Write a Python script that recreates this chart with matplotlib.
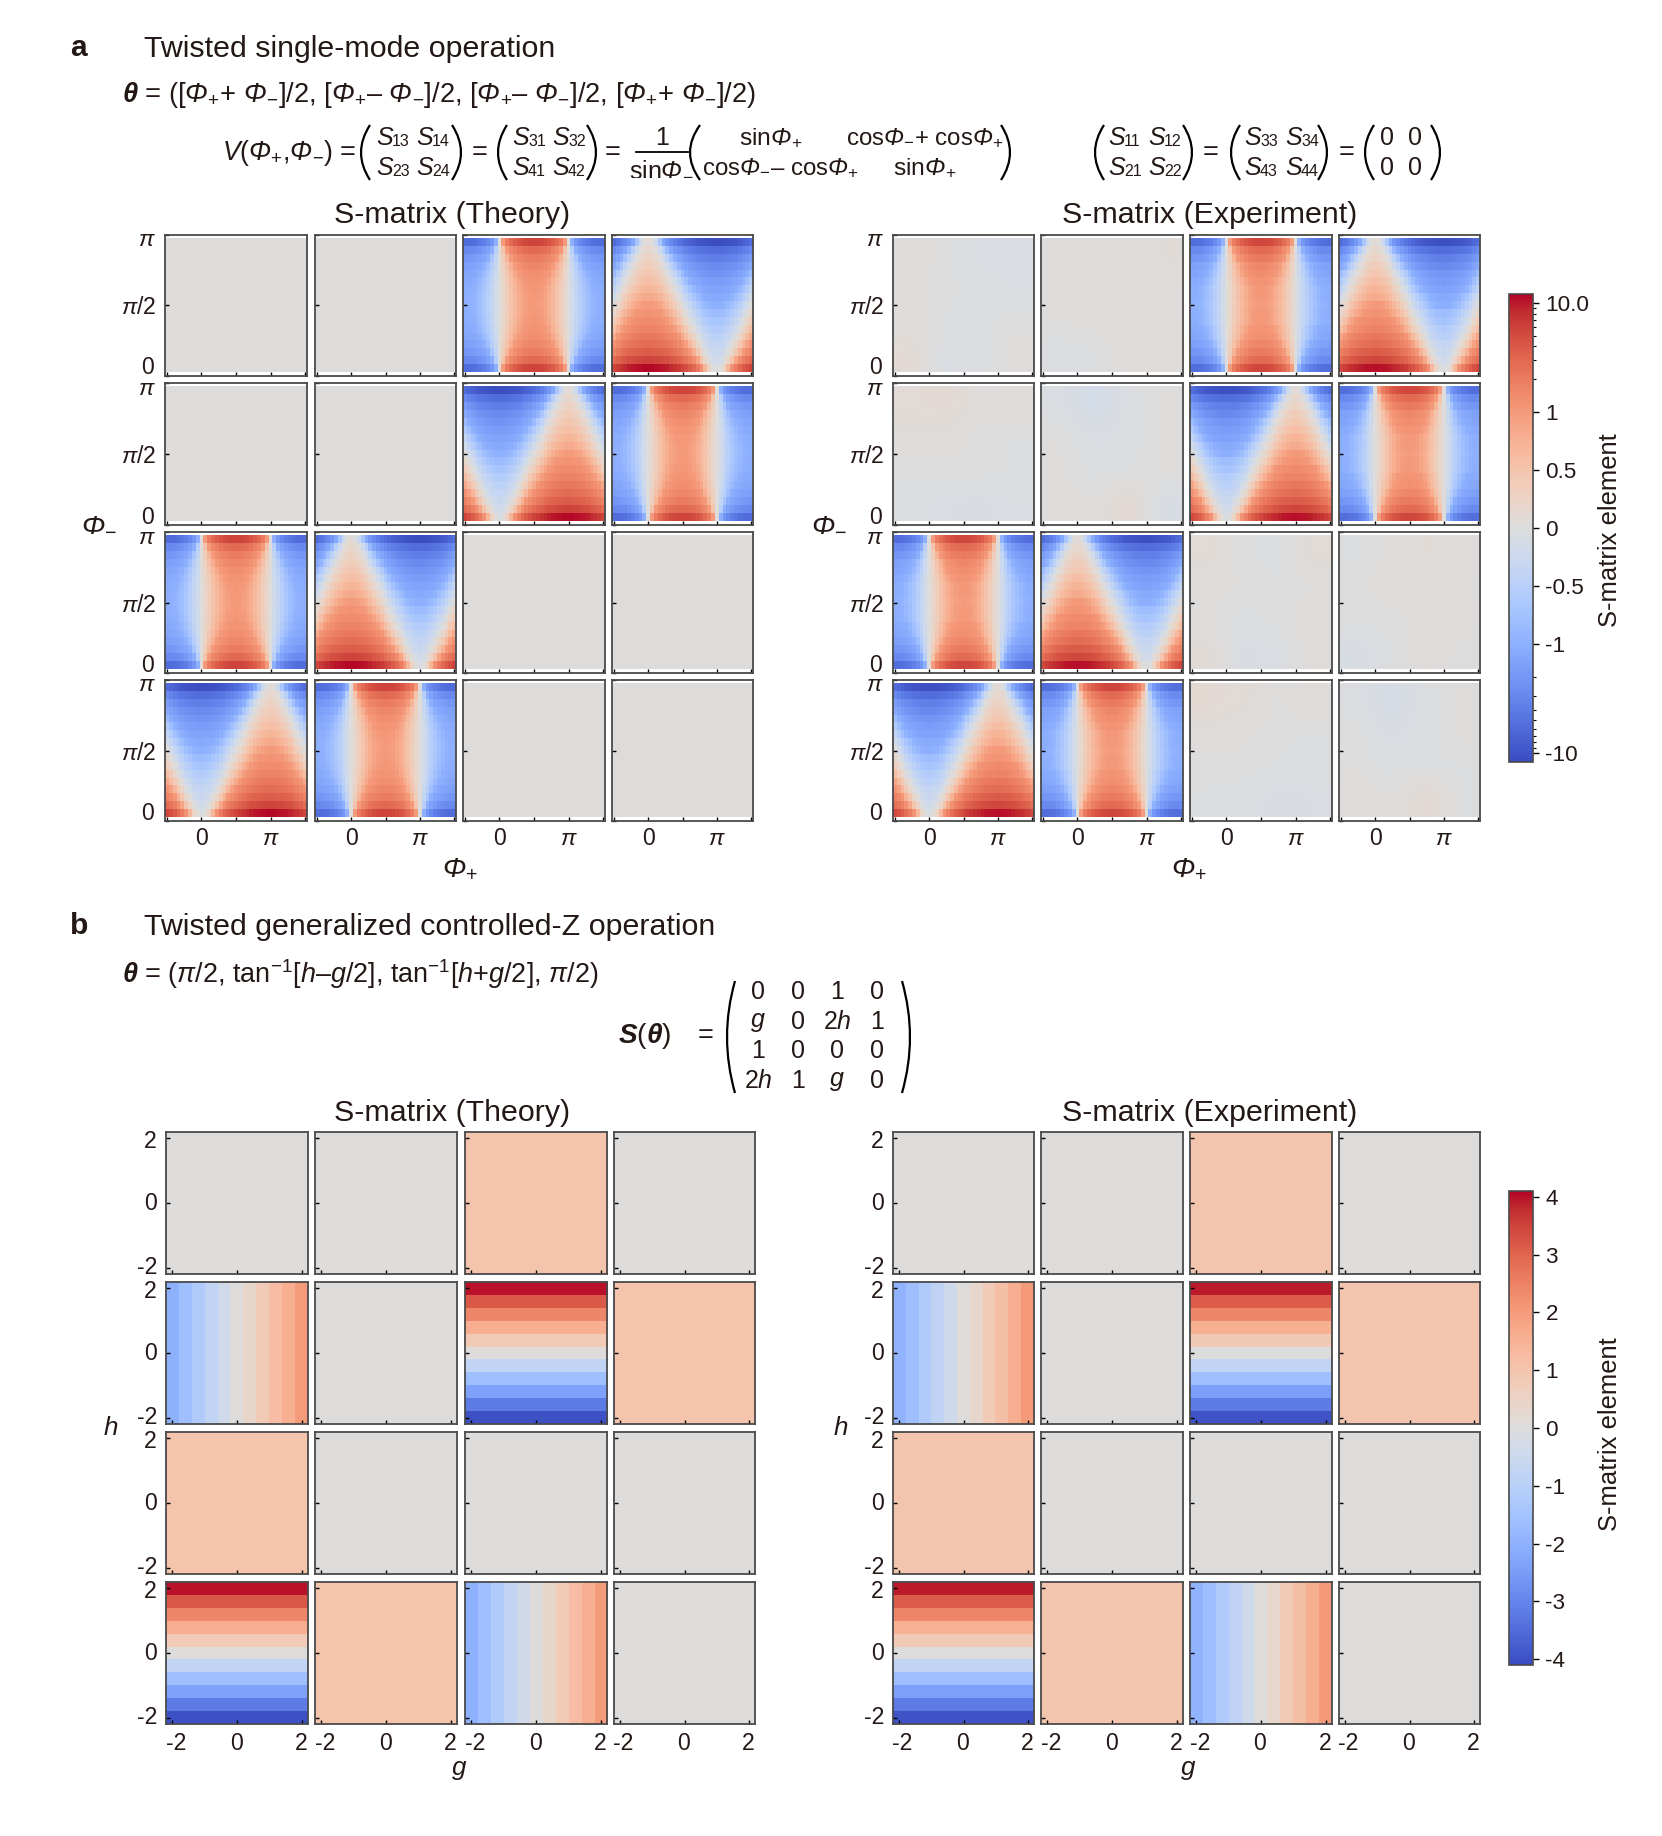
import numpy as np
import matplotlib
matplotlib.use("Agg")
import matplotlib.pyplot as plt
from matplotlib.cm import ScalarMappable
from matplotlib.colors import Normalize, SymLogNorm
from matplotlib.lines import Line2D
from matplotlib.patches import PathPatch
from matplotlib.path import Path
from matplotlib.transforms import Affine2D

plt.rcParams['font.family'] = ['Liberation Sans', 'DejaVu Sans']
plt.rcParams['mathtext.fontset'] = 'custom'
plt.rcParams['mathtext.rm'] = 'Liberation Sans'
plt.rcParams['mathtext.it'] = 'Liberation Sans:italic'
plt.rcParams['mathtext.bf'] = 'Liberation Sans:bold'
plt.rcParams['mathtext.bfit'] = 'Liberation Sans:italic:bold'
# mathtext forces capital greek upright in \mathit, the cal slot keeps it italic
plt.rcParams['mathtext.cal'] = 'Liberation Sans:italic'

W, H = 1662, 1836
INK = '#231815'
EDGE = '#4a4a4a'

# panel a, S13-like element: top 9 rows, columns phi+ = -90..90 deg in 10 deg steps
band_rows = [
    [-5.76, -5.67, -5.41, -4.99, -4.41, -3.70, -2.88, -1.97, -1.00, 0, 1.00, 1.97, 2.88, 3.70, 4.41, 4.99, 5.41, 5.67, 5.76],
    [-2.92, -2.88, -2.75, -2.53, -2.24, -1.88, -1.46, -1.00, -.51, 0, .51, 1.00, 1.46, 1.88, 2.24, 2.53, 2.75, 2.88, 2.92],
    [-2.00, -1.97, -1.88, -1.73, -1.53, -1.29, -1.00, -.68, -.35, 0, .35, .68, 1.00, 1.29, 1.53, 1.73, 1.88, 1.97, 2.00],
    [-1.56, -1.53, -1.46, -1.35, -1.19, -.99, -.78, -.53, -.27, 0, .27, .53, .78, .99, 1.19, 1.35, 1.46, 1.53, 1.56],
    [-1.31, -1.29, -1.23, -1.13, -1.00, -.84, -.65, -.45, -.23, 0, .23, .45, .65, .84, 1.00, 1.13, 1.23, 1.29, 1.31],
    [-1.15, -1.14, -1.09, -1.00, -.88, -.74, -.58, -.39, -.20, 0, .20, .39, .58, .74, .88, 1.00, 1.09, 1.14, 1.15],
    [-1.06, -1.05, -1.00, -.92, -.82, -.68, -.53, -.36, -.18, 0, .18, .36, .53, .68, .82, .92, 1.00, 1.05, 1.06],
    [-1.02, -1.00, -.95, -.88, -.78, -.65, -.51, -.35, -.18, 0, .18, .35, .51, .65, .78, .88, .95, 1.00, 1.02],
    [-1.00, -.98, -.94, -.87, -.77, -.64, -.50, -.34, -.17, 0, .17, .34, .50, .64, .77, .87, .94, .98, 1.00],
]

# panel a, S14-like element: all 17 rows top to bottom, columns phi+ = 0..180 deg
wedge_rows = [
    [.09, 0, -.26, -.69, -1.26, -1.97, -2.79, -3.70, -4.67, -5.67, -6.68, -7.64, -8.55, -9.38, -10.09, -10.66, -11.09, -11.35, -11.43],
    [.18, .13, 0, -.22, -.51, -.87, -1.28, -1.75, -2.24, -2.75, -3.25, -3.74, -4.20, -4.62, -4.98, -5.27, -5.49, -5.62, -5.66],
    [.27, .24, .15, 0, -.20, -.45, -.73, -1.05, -1.38, -1.73, -2.08, -2.42, -2.73, -3.02, -3.26, -3.46, -3.61, -3.70, -3.73],
    [.36, .34, .27, .16, 0, -.19, -.41, -.66, -.92, -1.19, -1.46, -1.72, -1.97, -2.19, -2.38, -2.54, -2.65, -2.72, -2.75],
    [.47, .45, .39, .29, .16, 0, -.19, -.39, -.61, -.84, -1.07, -1.29, -1.49, -1.68, -1.84, -1.97, -2.07, -2.12, -2.14],
    [.58, .56, .51, .42, .31, .17, 0, -.18, -.38, -.58, -.78, -.97, -1.15, -1.32, -1.46, -1.58, -1.66, -1.71, -1.73],
    [.70, .68, .64, .56, .45, .32, .17, 0, -.18, -.36, -.55, -.73, -.90, -1.05, -1.18, -1.29, -1.36, -1.41, -1.43],
    [.84, .82, .78, .70, .60, .48, .33, .17, 0, -.18, -.35, -.52, -.68, -.83, -.95, -1.06, -1.13, -1.18, -1.19],
    [1.00, .98, .94, .87, .77, .64, .50, .34, .17, 0, -.17, -.34, -.50, -.64, -.77, -.87, -.94, -.98, -1.00],
    [1.19, 1.18, 1.13, 1.06, .95, .83, .68, .52, .35, .18, 0, -.17, -.33, -.48, -.60, -.70, -.78, -.82, -.84],
    [1.43, 1.41, 1.36, 1.29, 1.18, 1.05, .90, .73, .55, .36, .18, 0, -.17, -.32, -.45, -.56, -.64, -.68, -.70],
    [1.73, 1.71, 1.66, 1.58, 1.46, 1.32, 1.15, .97, .78, .58, .38, .18, 0, -.17, -.31, -.42, -.51, -.56, -.58],
    [2.14, 2.12, 2.07, 1.97, 1.84, 1.68, 1.49, 1.29, 1.07, .84, .61, .39, .19, 0, -.16, -.29, -.39, -.45, -.47],
    [2.75, 2.72, 2.65, 2.54, 2.38, 2.19, 1.97, 1.72, 1.46, 1.19, .92, .66, .41, .19, 0, -.16, -.27, -.34, -.36],
    [3.73, 3.70, 3.61, 3.46, 3.26, 3.02, 2.73, 2.42, 2.08, 1.73, 1.38, 1.05, .73, .45, .20, 0, -.15, -.24, -.27],
    [5.66, 5.62, 5.49, 5.27, 4.98, 4.62, 4.20, 3.74, 3.25, 2.75, 2.24, 1.75, 1.28, .87, .51, .22, 0, -.13, -.18],
    [11.43, 11.35, 11.09, 10.66, 10.09, 9.38, 8.55, 7.64, 6.68, 5.67, 4.67, 3.70, 2.79, 1.97, 1.26, .69, .26, 0, -.09],
]

# how far the measured rows sit from theory
exp_band_gain = [.96, .98, 1.02, .98, 1.03, 1.00, .97, 1.02, .99, 1.01, .97, 1.02, .98, 1.01, 1.03, .98, .97]
exp_wedge_gain = [.97, 1.02, .98, 1.03, .97, 1.01, 1.03, .98, 1.02, .97, 1.01, .98, 1.03, .99, 1.02, .97, .95]

# near-zero elements in the experiment, coarse 4x4 readings
exp_null_a = [
    [[.03, -.01, -.06, -.06], [.01, -.01, -.03, -.05], [.02, -.02, -.02, -.01], [.08, -.05, -.04, .03]],
    [[.01, .03, 0, .05], [.01, .03, .01, .03], [0, .02, .04, .03], [-.04, -.03, .04, .04]],
    [[.07, .10, .02, .04], [.04, .03, -.01, -.02], [-.01, -.01, -.01, -.02], [-.04, -.06, -.07, -.05]],
    [[-.05, -.14, -.04, .01], [0, -.06, -.04, .01], [.01, -.03, -.02, .01], [.01, .01, .10, -.08]],
    [[.07, -.01, -.04, .07], [.01, 0, -.01, 0], [.01, -.03, -.01, .02], [.06, -.07, -.05, .04]],
    [[-.02, .01, .05, .03], [-.01, .03, .03, .01], [-.01, -.01, .03, .02], [-.08, -.02, .04, -.01]],
    [[.10, .06, 0, .04], [.03, .01, -.01, -.02], [-.01, -.01, -.02, -.03], [-.02, -.03, -.08, -.06]],
    [[-.04, -.12, -.03, .01], [-.01, -.07, -.03, .01], [0, -.03, -.02, -.02], [.03, .01, .10, -.02]],
]

# panel b, 11 readings along g and along h (top to bottom)
g_theory = [-2.0, -1.6, -1.2, -.8, -.4, 0, .4, .8, 1.2, 1.6, 2.0]
h2_theory = [4.0, 3.2, 2.4, 1.6, .8, 0, -.8, -1.6, -2.4, -3.2, -4.0]
g_exp = [-1.95, -1.62, -1.22, -.83, -.42, .02, .38, .80, 1.18, 1.62, 2.02]
h2_exp = [3.92, 3.12, 2.41, 1.55, .82, -.02, -.78, -1.60, -2.42, -3.18, -3.95]
one_theory, zero_theory = 1.0, 0.0
one_exp, zero_exp = 0.98, 0.03

cols_a = [[(165, 307), (315, 456), (463, 605), (612, 753)],
          [(893, 1034), (1041, 1183), (1190, 1332), (1339, 1480)]]
rows_a = [(235, 376), (383, 525), (532, 673), (680, 821)]
cols_b = [[(166, 308), (315, 457), (465, 607), (614, 755)],
          [(893, 1034), (1041, 1183), (1190, 1332), (1339, 1480)]]
rows_b = [(1132, 1274), (1282, 1424), (1432, 1574), (1582, 1724)]

layout_a = [['0', '0', 'band', 'wedge'],
            ['0', '0', 'flip', 'band'],
            ['band', 'wedge', '0', '0'],
            ['flip', 'band', '0', '0']]
layout_b = [['0', '0', '1', '0'],
            ['g', '0', 'h', '1'],
            ['1', '0', '0', '0'],
            ['h', '1', 'g', '0']]


def full_band():
    left = np.array(band_rows)
    wide = np.hstack([left, left[:, -2::-1]])
    return np.vstack([wide, wide[-2::-1]])


def full_wedge():
    w = np.array(wedge_rows)
    return np.hstack([w[:, 9:0:-1], w, w[:, 17:8:-1]])


fig = plt.figure(figsize=(W / 100, H / 100), dpi=100)
px = Affine2D().scale(1 / W, -1 / H).translate(0, 1) + fig.transFigure
norm_a = SymLogNorm(linthresh=1, linscale=0.969, vmin=-12.2, vmax=12.2, base=10)
norm_b = Normalize(vmin=-4.1, vmax=4.1)


def txt(x, y, s, size=30, ha='left', **kw):
    return fig.text(x / W, 1 - y / H, s, fontsize=size * .72, ha=ha, va='center', color=INK, **kw)


def paren(x0, x1, y0, y1, left=True):
    # thin curved bracket for the matrices
    if left:
        pts = [(x1, y0), (2 * x0 - x1, (y0 + y1) / 2), (x1, y1)]
    else:
        pts = [(x0, y0), (2 * x1 - x0, (y0 + y1) / 2), (x0, y1)]
    p = Path(pts, [Path.MOVETO, Path.CURVE3, Path.CURVE3])
    fig.add_artist(PathPatch(p, fc='none', ec='black', lw=1.6, transform=px))


def new_ax(xr, yr):
    return fig.add_axes([xr[0] / W, 1 - yr[1] / H, (xr[1] - xr[0]) / W, (yr[1] - yr[0]) / H])


def style(ax):
    for s in ax.spines.values():
        s.set_linewidth(1.3)
        s.set_color(EDGE)
    ax.tick_params(direction='in', length=3.2, width=1.0, colors='black', labelsize=23 * .72,
                   labelcolor=INK)
    ax.tick_params(axis='y', pad=6.5)
    ax.tick_params(axis='x', pad=4.5)


def panel_a(xr, yr, grid, left_col, bottom_row, smooth=False):
    ax = new_ax(xr, yr)
    ax.imshow(grid, extent=np.radians([-95, 275, 5, 175]), aspect='auto', cmap='coolwarm', norm=norm_a,
              interpolation='bilinear' if smooth else 'nearest', origin='upper')
    ax.set_xlim(np.radians([-95, 275]))
    ax.set_ylim(0, np.pi)
    style(ax)
    ax.set_xticks(np.radians([-90, 0, 90, 180, 270]))
    ax.set_yticks(np.radians([0, 90, 180]))
    ax.set_xticklabels(['', '0', '', r'$\mathit{\pi}$', ''] if bottom_row else [''] * 5)
    ax.set_yticklabels(['', r'$\mathit{\pi}$/2', ''] if left_col else [''] * 3)
    if left_col:
        txt(xr[0] - 9, yr[0] + 5, r'$\mathit{\pi}$', 23, ha='right')
        txt(xr[0] - 11, yr[1] - 8, '0', 23, ha='right')
    return ax


def panel_b(xr, yr, kind, g, h, one, zero, left_col, bottom_row):
    if kind == 'g':
        grid = np.array([g])
    elif kind == 'h':
        grid = np.array([h]).T
    else:
        grid = np.array([[one if kind == '1' else zero]])
    ax = new_ax(xr, yr)
    ax.imshow(grid, extent=[-2.2, 2.2, -2.2, 2.2], aspect='auto', cmap='coolwarm', norm=norm_b,
              interpolation='nearest', origin='upper')
    style(ax)
    ax.set_xticks([-2, 0, 2])
    ax.set_yticks([-2, 0, 2])
    ax.set_xticklabels([''] * 3)
    ax.set_yticklabels([''] * 3)
    mid_x = (xr[0] + xr[1]) / 2
    if bottom_row:
        txt(mid_x - 61, 1743, '-2', 23, ha='center')
        txt(mid_x - 1, 1743, '0', 23, ha='center')
        txt(mid_x + 64, 1743, '2', 23, ha='center')
    if left_col:
        txt(xr[0] - 9, yr[0] + 9, '2', 23, ha='right')
        txt(xr[0] - 9, (yr[0] + yr[1]) / 2 + 1, '0', 23, ha='right')
        txt(xr[0] - 9, yr[1] - 7, '-2', 23, ha='right')
    return ax


band = full_band()
wedge = full_wedge()
exp_band = band * np.array(exp_band_gain)[:, None]
exp_wedge = wedge * np.array(exp_wedge_gain)[:, None]

for side in range(2):
    nulls = iter(exp_null_a)
    for r in range(4):
        for c in range(4):
            kind = layout_a[r][c]
            smooth = False
            if kind == 'band':
                grid = band if side == 0 else exp_band
            elif kind == 'wedge':
                grid = wedge if side == 0 else exp_wedge
            elif kind == 'flip':
                grid = (wedge if side == 0 else exp_wedge)[:, ::-1]
            elif side == 0:
                grid = [[zero_theory]]
            else:
                grid = next(nulls)
                smooth = True
            panel_a(cols_a[side][c], rows_a[r], grid, c == 0, r == 3, smooth)
    for r in range(4):
        for c in range(4):
            kind = layout_b[r][c]
            if side == 0:
                panel_b(cols_b[side][c], rows_b[r], kind, g_theory, h2_theory, one_theory, zero_theory, c == 0, r == 3)
            else:
                panel_b(cols_b[side][c], rows_b[r], kind, g_exp, h2_exp, one_exp, zero_exp, c == 0, r == 3)

# colour bars
cax = new_ax((1509, 1533), (294, 762))
cb = fig.colorbar(ScalarMappable(norm=norm_a, cmap='coolwarm'), cax=cax)
cb.set_ticks([-10, -1, -.5, 0, .5, 1, 10])
cb.set_ticklabels(['-10', '-1', '-0.5', '0', '0.5', '1', '10.0'])
cax.set_yticks([s * v for s in (-1, 1) for v in (2, 3, 4, 5, 6, 7, 8, 9)], minor=True)
cax.tick_params(which='major', length=4.5, width=1.0, labelsize=22.5 * .72, labelcolor=INK, pad=4.5)
cax.tick_params(which='minor', length=2.5, width=.8)
cb.outline.set_edgecolor(EDGE)
cb.outline.set_linewidth(1.2)

cax = new_ax((1509, 1533), (1191, 1665))
cb = fig.colorbar(ScalarMappable(norm=norm_b, cmap='coolwarm'), cax=cax)
cb.set_ticks([-4, -3, -2, -1, 0, 1, 2, 3, 4])
cb.set_ticklabels(['-4', '-3', '-2', '-1', '0', '1', '2', '3', '4'])
cax.tick_params(length=4.5, width=1.0, labelsize=22.5 * .72, labelcolor=INK, pad=4.5)
cb.outline.set_edgecolor(EDGE)
cb.outline.set_linewidth(1.2)

txt(1610, 530, 'S-matrix element', 25.6, ha='center', rotation=90)
txt(1610, 1434, 'S-matrix element', 25.6, ha='center', rotation=90)

# headings
txt(70, 48, 'a', 30, weight='bold')
txt(144, 49, 'Twisted single-mode operation', 30.4)
txt(70, 926, 'b', 30, weight='bold')
txt(144, 927, 'Twisted generalized controlled-Z operation', 30.4)
for cx, name in ((452, 'S-matrix (Theory)'), (1210, 'S-matrix (Experiment)')):
    txt(cx, 215, name, 30.4, ha='center')
    txt(cx, 1113, name, 30.4, ha='center')

# axis names
PP = r'$\mathcal{\Phi}_{+}$'
PM = r'$\mathcal{\Phi}_{-}$'
for x in (99, 829):
    txt(x, 524, PM, 28, ha='center')
    txt(x + 12, 1428, r'$\mathit{h}$', 26, ha='center')
for x in (460, 1189):
    txt(x, 869, PP, 28, ha='center')
    txt(x - 1, 1770, r'$\mathit{g}$', 26, ha='center')

# equations of panel a
TH = r'$\mathbfit{\theta}$'
txt(122, 95, TH + ' = ([' + PP + '+ ' + PM + ']/2, [' + PP + '– ' + PM + ']/2, [' + PP + '– ' + PM + ']/2, [' + PP + '+ ' + PM + ']/2)', 27.2)
txt(222, 153, r'$\mathit{V}$(' + PP + ',' + PM + ')', 26.5)
txt(348, 153, '=', 27, ha='center')


def S(x, y, sub):
    # subscripts here are smaller than mathtext would set them
    txt(x, y, r'$\mathit{S}$', 25)
    txt(x + 16, y + 3, sub, 16)


y1, y2 = 138, 168
for x0, x1, xa, xb, names in ((361, 461, 376, 416, ('13', '14', '23', '24')),
                              (498, 596, 512, 552, ('31', '32', '41', '42')),
                              (1095, 1192, 1108, 1148, ('11', '12', '21', '22')),
                              (1231, 1327, 1244, 1285, ('33', '34', '43', '44'))):
    paren(x0, x0 + 9, 125, 180)
    paren(x1 - 9, x1, 125, 180, left=False)
    S(xa, y1, names[0])
    S(xb, y1, names[1])
    S(xa, y2, names[2])
    S(xb, y2, names[3])
for x in (480, 613, 1211, 1347):
    txt(x, 153, '=', 27, ha='center')
txt(662, 138, '1', 25, ha='center')
fig.add_artist(Line2D([636, 688], [152, 152], color='black', lw=1.3, transform=px))
txt(661, 168, 'sin' + PM, 25, ha='center')
paren(690, 700, 125, 180)
paren(1001, 1010, 125, 180, left=False)
txt(771, y1, 'sin' + PP, 24.5, ha='center')
txt(780, y2, 'cos' + PM + '– cos' + PP, 24, ha='center')
txt(925, y1, 'cos' + PM + '+ cos' + PP, 24, ha='center')
txt(925, y2, 'sin' + PP, 24.5, ha='center')
paren(1365, 1374, 125, 180)
paren(1431, 1440, 125, 180, left=False)
for x in (1387, 1415):
    txt(x, y1, '0', 25, ha='center')
    txt(x, y2, '0', 25, ha='center')

# equations of panel b
txt(122, 974, TH + r' = ($\mathit{\pi}$/2, tan$^{-1}$[$\mathit{h}$–$\mathit{g}$/2], tan$^{-1}$[$\mathit{h}$+$\mathit{g}$/2], $\mathit{\pi}$/2)', 27)
txt(618, 1036, r'$\mathbfit{S}$(' + TH + ')', 28)
txt(706, 1036, '=', 27, ha='center')
paren(727, 735, 981, 1093)
paren(902, 910, 981, 1093, left=False)
matrix_b = [['0', '0', '1', '0'],
            [r'$\mathit{g}$', '0', r'2$\mathit{h}$', '1'],
            ['1', '0', '0', '0'],
            [r'2$\mathit{h}$', '1', r'$\mathit{g}$', '0']]
for y, row in zip((992, 1022, 1051, 1081), matrix_b):
    for x, s in zip((758, 798, 837, 877), row):
        txt(x, y, s, 25, ha='center')

fig.savefig('out.png', dpi=100, facecolor='white')
